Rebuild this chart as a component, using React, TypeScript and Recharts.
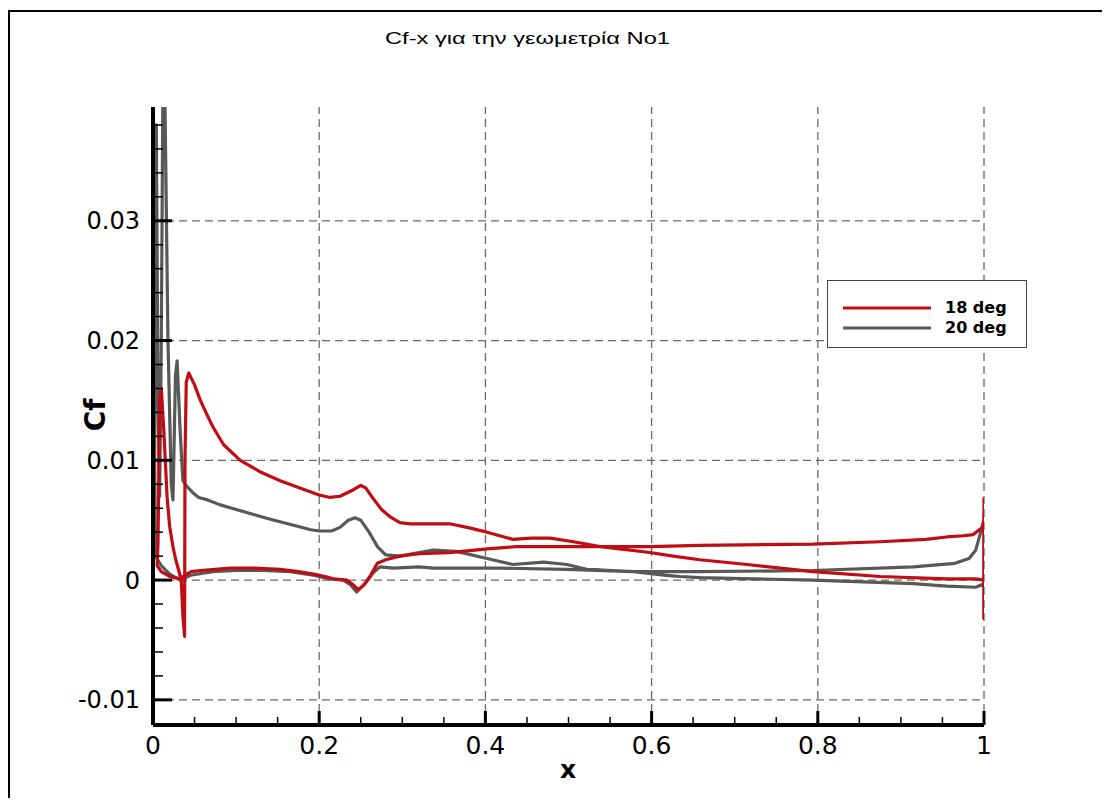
import { LineChart, Line, XAxis, YAxis, ReferenceLine } from "recharts";

// Cf along the chord, 18 deg: closed loop TE -> upper surface -> LE -> lower surface -> TE
const red18X = [
  1.0, 1.0, 1.0, 0.99, 0.955, 0.875, 0.794, 0.715, 0.658, 0.626, 0.598, 0.538, 0.506, 0.478,
  0.455, 0.433, 0.402, 0.378, 0.357, 0.33, 0.31, 0.297, 0.285, 0.275, 0.265, 0.256, 0.25, 0.24,
  0.225, 0.213, 0.2, 0.18, 0.153, 0.13, 0.105, 0.085, 0.072, 0.065, 0.057, 0.05, 0.043, 0.04,
  0.0385, 0.038, 0.036, 0.034, 0.031, 0.027, 0.024, 0.02, 0.017, 0.013, 0.01, 0.008, 0.007,
  0.006, 0.005,
  0.01, 0.02, 0.032, 0.036, 0.046, 0.057, 0.075, 0.093, 0.12, 0.153, 0.175, 0.193, 0.207,
  0.217, 0.233, 0.241, 0.247, 0.254, 0.261, 0.27, 0.28, 0.297, 0.32, 0.357, 0.402, 0.438,
  0.498, 0.598, 0.658, 0.794, 0.875, 0.93, 0.955, 0.975, 0.987, 0.998, 1.0,
];
const red18Y = [
  0.0069, -0.0032, 0.0, 0.0001, 0.0001, 0.0003, 0.0007, 0.0013, 0.0017, 0.002, 0.0023, 0.0028,
  0.0032, 0.0035, 0.0035, 0.0034, 0.004, 0.0044, 0.0047, 0.0047, 0.0047, 0.0048, 0.0053,
  0.0059, 0.0068, 0.0077, 0.0079, 0.0075, 0.007, 0.0069, 0.0071, 0.0076, 0.0083, 0.009, 0.01,
  0.0113, 0.0128, 0.0138, 0.015, 0.0163, 0.0173, 0.0165, 0.01, -0.0047, -0.003, 0.0, 0.0008,
  0.0018, 0.0028, 0.0045, 0.0069, 0.0125, 0.016, 0.015, 0.009, 0.003, 0.0012,
  0.0007, 0.0003, 0.0001, 0.0003, 0.0007, 0.0008, 0.0009, 0.001, 0.001, 0.0009, 0.0007,
  0.0005, 0.0003, 0.0001, 0.0, -0.0004, -0.0008, -0.0004, 0.0003, 0.0014, 0.0017, 0.002, 0.0022,
  0.0023, 0.0026, 0.0028, 0.0028, 0.0028, 0.0029, 0.003, 0.0032, 0.0034, 0.0036, 0.0037,
  0.0038, 0.0044, 0.005,
];

// 20 deg
const gray20X = [
  1.0, 1.0, 1.0, 0.99, 0.955, 0.915, 0.794, 0.658, 0.634, 0.618, 0.578, 0.522, 0.498, 0.47,
  0.433, 0.402, 0.365, 0.337, 0.32, 0.297, 0.28, 0.27, 0.26, 0.25, 0.243, 0.235, 0.225, 0.215,
  0.2, 0.19, 0.168, 0.14, 0.12, 0.1, 0.08, 0.065, 0.055, 0.048, 0.041, 0.036, 0.033, 0.029,
  0.027, 0.025, 0.024, 0.022, 0.018, 0.014, 0.012, 0.01, 0.008, 0.006, 0.004, 0.003, 0.002,
  0.003,
  0.01, 0.02, 0.033, 0.045, 0.072, 0.1, 0.132, 0.165, 0.193, 0.213, 0.229, 0.238, 0.245, 0.255,
  0.265, 0.273, 0.289, 0.32, 0.337, 0.418, 0.498, 0.578, 0.658, 0.794, 0.915, 0.965, 0.982,
  0.99, 1.0,
];
const gray20Y = [
  0.0055, -0.0032, -0.0003, -0.0006, -0.0005, -0.0003, 0.0, 0.0002, 0.0003, 0.0004, 0.0007,
  0.0009, 0.0013, 0.0015, 0.0013, 0.0018, 0.0024, 0.0025, 0.0023, 0.002, 0.0021, 0.0028,
  0.004, 0.005, 0.0052, 0.005, 0.0044, 0.0041, 0.0041, 0.0042, 0.0046, 0.0051, 0.0055, 0.0059,
  0.0063, 0.0067, 0.0069, 0.0073, 0.0078, 0.0083, 0.012, 0.0183, 0.017, 0.01, 0.0067, 0.008,
  0.02, 0.042, 0.042, 0.02, 0.007, 0.015, 0.038, 0.03, 0.01, 0.002,
  0.0012, 0.0005, 0.0, 0.0004, 0.0007, 0.0008, 0.0008, 0.0007, 0.0004, 0.0001, 0.0, -0.0004,
  -0.001, -0.0003, 0.0006, 0.0011, 0.001, 0.0011, 0.001, 0.001, 0.0009, 0.0007, 0.0007,
  0.0008, 0.0011, 0.0014, 0.0018, 0.0025, 0.005,
];

const xTicks = [
  0, 0.05, 0.1, 0.15, 0.2, 0.25, 0.3, 0.35, 0.4, 0.45, 0.5, 0.55, 0.6, 0.65, 0.7, 0.75, 0.8,
  0.85, 0.9, 0.95, 1,
];
const yTicks = [
  -0.01, -0.008, -0.006, -0.004, -0.002, 0, 0.002, 0.004, 0.006, 0.008, 0.01, 0.012, 0.014,
  0.016, 0.018, 0.02, 0.022, 0.024, 0.026, 0.028, 0.03, 0.032, 0.034, 0.036, 0.038,
];
const xMajor = [0, 0.2, 0.4, 0.6, 0.8, 1];
const yMajor = [-0.01, 0, 0.01, 0.02, 0.03];
const xLabels = ["0", "0.2", "0.4", "0.6", "0.8", "1"];
const yLabels = ["-0.01", "0", "0.01", "0.02", "0.03"];

const RED = "#c20c14";
const GRAY = "#585858";

const redData = red18X.map((x, i) => ({ x, y: red18Y[i] }));
const grayData = gray20X.map((x, i) => ({ x, y: gray20Y[i] }));

const majorIndex = (list: number[], v: number) =>
  list.findIndex((m) => Math.abs(m - v) < 1e-9);

function YTick({ x, y, payload }: any) {
  const mi = majorIndex(yMajor, payload.value);
  const major = mi >= 0;
  return (
    <g>
      <line
        x1={x}
        x2={x + (major ? 19 : 10)}
        y1={y}
        y2={y}
        stroke="#000"
        strokeWidth={major ? 3 : 1.5}
      />
      {major && (
        <text
          x={x - 13}
          y={y}
          dy="0.36em"
          textAnchor="end"
          fontFamily="DejaVu Sans"
          fontSize={24}
          fill="#000"
        >
          {yLabels[mi]}
        </text>
      )}
    </g>
  );
}

function XTick({ x, y, payload }: any) {
  const mi = majorIndex(xMajor, payload.value);
  const major = mi >= 0;
  return (
    <g>
      <line
        x1={x}
        x2={x}
        y1={y}
        y2={y - (major ? 14 : 8)}
        stroke="#000"
        strokeWidth={major ? 3 : 1.5}
      />
      {major && (
        <text
          x={x}
          y={y + 29}
          textAnchor="middle"
          fontFamily="DejaVu Sans"
          fontSize={25}
          fill="#000"
        >
          {xLabels[mi]}
        </text>
      )}
    </g>
  );
}

export default function App() {
  return (
    <div style={{ position: "relative", width: 1094, height: 790 }}>
      {/* page frame: top and left edges only */}
      <div
        style={{
          position: "absolute",
          left: 0,
          top: 2,
          width: 1100,
          height: 2,
          background: "#000",
        }}
      />
      <div
        style={{
          position: "absolute",
          left: 0,
          top: 2,
          width: 2,
          height: 796,
          background: "#000",
        }}
      />
      <LineChart
        width={1094}
        height={790}
        margin={{ top: 99, right: 118, bottom: 23, left: 65 }}
      >
        <XAxis
          dataKey="x"
          type="number"
          domain={[0, 1]}
          ticks={xTicks}
          interval={0}
          tickSize={0}
          tickMargin={0}
          tick={<XTick />}
          axisLine={{ stroke: "#000", strokeWidth: 4 }}
          height={50}
          allowDataOverflow
        />
        <YAxis
          dataKey="y"
          type="number"
          domain={[-0.0121, 0.0395]}
          ticks={yTicks}
          interval={0}
          tickSize={0}
          tickMargin={0}
          tick={<YTick />}
          axisLine={{ stroke: "#000", strokeWidth: 4 }}
          width={80}
          allowDataOverflow
        />
        {xMajor.slice(1).map((v) => (
          <ReferenceLine
            key={`vx${v}`}
            x={v}
            stroke="#6a6a6a"
            strokeWidth={1.3}
            strokeDasharray="8 5"
          />
        ))}
        {yMajor.map((v) => (
          <ReferenceLine
            key={`hy${v}`}
            y={v}
            stroke="#6a6a6a"
            strokeWidth={1.3}
            strokeDasharray="8 5"
          />
        ))}
        <Line
          data={grayData}
          dataKey="y"
          type="linear"
          stroke={GRAY}
          strokeWidth={3.2}
          dot={false}
          activeDot={false}
          isAnimationActive={false}
          strokeLinejoin="round"
        />
        <Line
          data={redData}
          dataKey="y"
          type="linear"
          stroke={RED}
          strokeWidth={3.2}
          dot={false}
          activeDot={false}
          isAnimationActive={false}
          strokeLinejoin="round"
        />
      </LineChart>
      <svg
        width={1094}
        height={790}
        style={{ position: "absolute", left: 0, top: 0, pointerEvents: "none" }}
      >
        <text
          x={377}
          y={36}
          textLength={285}
          lengthAdjust="spacingAndGlyphs"
          fontFamily="Liberation Sans"
          fontSize={17}
          fill="#000"
        >
          Cf-x για την γεωμετρία Νο1
        </text>
        <text
          transform="translate(97,407) rotate(-90)"
          textAnchor="middle"
          fontFamily="DejaVu Sans"
          fontWeight="bold"
          fontSize={28}
          fill="#000"
        >
          Cf
        </text>
        <text
          x={560}
          y={770}
          textAnchor="middle"
          fontFamily="DejaVu Sans"
          fontWeight="bold"
          fontSize={25}
          fill="#000"
        >
          x
        </text>
      </svg>
      <div
        style={{
          position: "absolute",
          left: 819,
          top: 272,
          width: 200,
          height: 68,
          border: "1px solid #444",
          background: "#fff",
          boxSizing: "border-box",
        }}
      >
        <svg width={198} height={66}>
          <line x1={15} x2={103} y1={27} y2={27} stroke={RED} strokeWidth={3} />
          <line x1={15} x2={103} y1={47} y2={47} stroke={GRAY} strokeWidth={3} />
          <text x={117} y={32} fontFamily="DejaVu Sans" fontWeight="bold" fontSize={16} fill="#000">
            18 deg
          </text>
          <text x={117} y={52} fontFamily="DejaVu Sans" fontWeight="bold" fontSize={16} fill="#000">
            20 deg
          </text>
        </svg>
      </div>
    </div>
  );
}
